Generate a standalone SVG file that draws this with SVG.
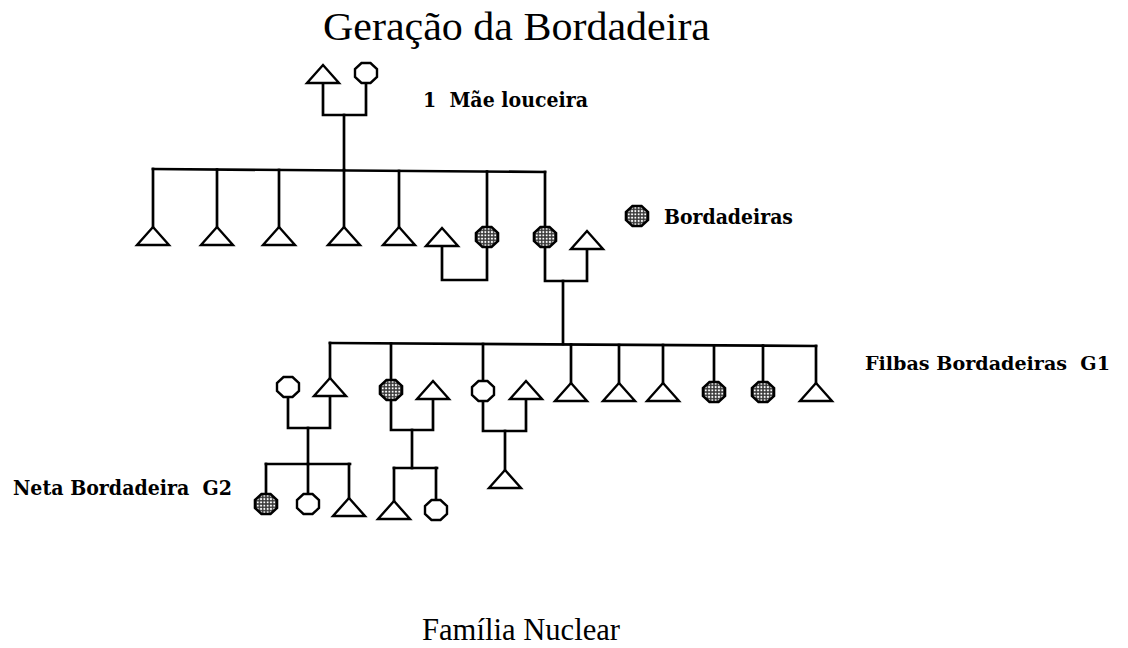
<svg xmlns="http://www.w3.org/2000/svg" width="1128" height="648" viewBox="0 0 1128 648">
<style>
  .bg { fill: #ffffff; }
  .line { fill: none; stroke: #000; stroke-width: 2.7; stroke-linecap: square; stroke-linejoin: miter; }
  .sym { fill: #fff; stroke: #000; stroke-width: 2.4; stroke-linejoin: miter; }
  .spot { fill: url(#dots); stroke: #000; stroke-width: 2.6; }
  .title { font-family: "Liberation Serif", "Times New Roman", serif; font-size: 41px; fill: #000; }
  .foot { font-family: "Liberation Serif", "Times New Roman", serif; font-size: 31px; fill: #000; }
  .lbl { font-family: "DejaVu Serif", "Liberation Serif", serif; font-weight: bold; font-size: 21px; fill: #000; }
  .lbl-s { font-size: 19px; }
</style>
<defs>
  <pattern id="dots" width="3.3" height="3.3" patternUnits="userSpaceOnUse">
    <rect width="3.3" height="3.3" fill="#3a3a3a"/>
    <circle cx="1.65" cy="1.65" r="1.05" fill="#fff"/>
  </pattern>
  <path id="tri" d="M0,0 L16,18 L-16,18 Z"/>
  <polygon id="oct" points="-4.5,-10 4.5,-10 11,-4 11,4 4.5,10 -4.5,10 -11,4 -11,-4"/>
</defs>
<rect class="bg" x="0" y="0" width="1128" height="648"/>

<text class="title" x="323" y="40" textLength="387" lengthAdjust="spacingAndGlyphs">Geração da Bordadeira</text>
<text class="lbl" x="423" y="107" textLength="165" lengthAdjust="spacingAndGlyphs" xml:space="preserve">1  Mãe louceira</text>
<text class="lbl" x="664" y="224" textLength="129" lengthAdjust="spacingAndGlyphs">Bordadeiras</text>
<text class="lbl lbl-s" x="865" y="370" textLength="245" lengthAdjust="spacingAndGlyphs" xml:space="preserve">Filbas Bordadeiras  G1</text>
<text class="lbl" x="13" y="495" textLength="219" lengthAdjust="spacingAndGlyphs" xml:space="preserve">Neta Bordadeira  G2</text>
<text class="foot" x="422" y="640" textLength="198" lengthAdjust="spacingAndGlyphs">Família Nuclear</text>

<g id="connectors">
  <!-- generation 0 couple -->
  <path class="line" d="M323,83 V115 H366 V83"/>
  <path class="line" d="M344,115 V170"/>
  <!-- generation 1 sibling bar and drops -->
  <path class="line" d="M153,169 L545,172"/>
  <path class="line" d="M153,169 V227"/>
  <path class="line" d="M217,169.5 V227"/>
  <path class="line" d="M279,170 V227"/>
  <path class="line" d="M344,170 V227"/>
  <path class="line" d="M399,171 V227"/>
  <path class="line" d="M487,171.5 V227"/>
  <path class="line" d="M545,172 V227"/>
  <!-- generation 1 marriages -->
  <path class="line" d="M442,246 V280 H487 V247"/>
  <path class="line" d="M545,247 V281 H587 V249"/>
  <path class="line" d="M563,281 V344"/>
  <!-- generation 2 sibling bar and drops -->
  <path class="line" d="M330,343 L816,346"/>
  <path class="line" d="M330,343 V377"/>
  <path class="line" d="M391,343.5 V380"/>
  <path class="line" d="M483,344 V381"/>
  <path class="line" d="M571,344.5 V383"/>
  <path class="line" d="M619,345 V383"/>
  <path class="line" d="M663,345 V383"/>
  <path class="line" d="M714,345.5 V382"/>
  <path class="line" d="M763,345.5 V382"/>
  <path class="line" d="M816,346 V383"/>
  <!-- generation 2 marriages -->
  <path class="line" d="M288,397 V428 H330 V396"/>
  <path class="line" d="M308,428 V464"/>
  <path class="line" d="M391,400 V430 H433 V399"/>
  <path class="line" d="M412,430 V468"/>
  <path class="line" d="M483,401 V431 H526 V399"/>
  <path class="line" d="M505,431 V470"/>
  <!-- generation 3 sibling bars and drops -->
  <path class="line" d="M266,464 H350"/>
  <path class="line" d="M266,464 V494"/>
  <path class="line" d="M308,464 V494"/>
  <path class="line" d="M349,464 V498"/>
  <path class="line" d="M394,468 H437"/>
  <path class="line" d="M394,468 V502"/>
  <path class="line" d="M436,468 V500"/>
</g>

<!-- generation 0 -->
<g id="g0-father"><use href="#tri" class="sym" x="323" y="65"/></g>
<g id="g0-mother"><use href="#oct" class="sym" x="366" y="73"/></g>

<!-- generation 1 -->
<g id="g1-son1"><use href="#tri" class="sym" x="153" y="227"/></g>
<g id="g1-son2"><use href="#tri" class="sym" x="217" y="227"/></g>
<g id="g1-son3"><use href="#tri" class="sym" x="279" y="227"/></g>
<g id="g1-son4"><use href="#tri" class="sym" x="344" y="227"/></g>
<g id="g1-son5"><use href="#tri" class="sym" x="399" y="227"/></g>
<g id="g1-husband6"><use href="#tri" class="sym" x="442" y="228"/></g>
<g id="g1-daughter6"><use href="#oct" class="spot" x="487" y="237"/></g>
<g id="g1-daughter7"><use href="#oct" class="spot" x="545" y="237"/></g>
<g id="g1-husband7"><use href="#tri" class="sym" x="587" y="231"/></g>

<!-- legend -->
<g id="legend-bordadeira"><use href="#oct" class="spot" x="637" y="216"/></g>

<!-- generation 2 -->
<g id="g2-wifeA"><use href="#oct" class="sym" x="288" y="387"/></g>
<g id="g2-sonA"><use href="#tri" class="sym" x="330" y="378"/></g>
<g id="g2-daughterB"><use href="#oct" class="spot" x="391" y="390"/></g>
<g id="g2-husbandB"><use href="#tri" class="sym" x="433" y="381"/></g>
<g id="g2-daughterC"><use href="#oct" class="sym" x="483" y="391"/></g>
<g id="g2-husbandC"><use href="#tri" class="sym" x="526" y="381"/></g>
<g id="g2-sonD"><use href="#tri" class="sym" x="571" y="383"/></g>
<g id="g2-sonE"><use href="#tri" class="sym" x="619" y="383"/></g>
<g id="g2-sonF"><use href="#tri" class="sym" x="663" y="383"/></g>
<g id="g2-daughterG"><use href="#oct" class="spot" x="714" y="392"/></g>
<g id="g2-daughterH"><use href="#oct" class="spot" x="763" y="392"/></g>
<g id="g2-sonI"><use href="#tri" class="sym" x="816" y="383"/></g>

<!-- generation 3 -->
<g id="g3-A1"><use href="#oct" class="spot" x="266" y="504"/></g>
<g id="g3-A2"><use href="#oct" class="sym" x="308" y="504"/></g>
<g id="g3-A3"><use href="#tri" class="sym" x="349" y="498"/></g>
<g id="g3-B1"><use href="#tri" class="sym" x="394" y="501"/></g>
<g id="g3-B2"><use href="#oct" class="sym" x="436" y="510"/></g>
<g id="g3-C1"><use href="#tri" class="sym" x="505" y="470"/></g>
</svg>
